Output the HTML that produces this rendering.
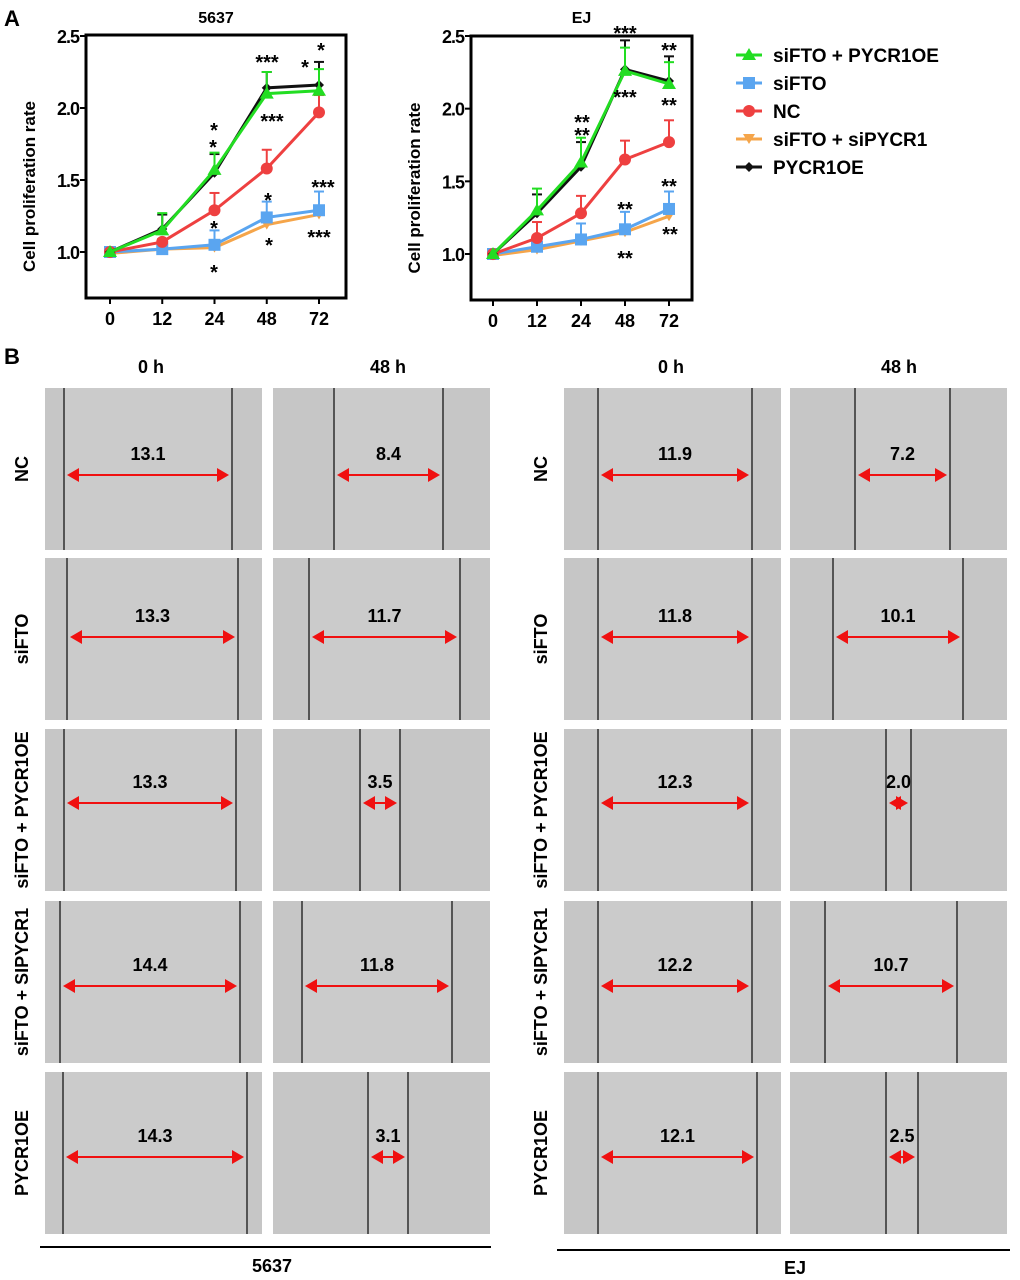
<!DOCTYPE html>
<html><head><meta charset="utf-8"><style>
html,body{margin:0;padding:0;background:#fff;}
svg{display:block;font-family:"Liberation Sans",Arial,sans-serif;}
</style></head><body>
<svg id="fig" width="1020" height="1280" viewBox="0 0 1020 1280" xmlns="http://www.w3.org/2000/svg">
<text x="4" y="26" font-size="22" font-weight="bold">A</text>
<text x="4" y="364" font-size="22" font-weight="bold">B</text>
<g id="charts"></g>
<g id="legend"></g>
<g id="scratch"></g>
</svg>
<script>
const NS='http://www.w3.org/2000/svg';
const categories=['0','12','24','48','72'];
const yTicks=[1.0,1.5,2.0,2.5];
const seriesNames=['siFTO + PYCR1OE','siFTO','NC','siFTO + siPYCR1','PYCR1OE'];
// 5637 values
const a_green=[1.0,1.15,1.57,2.10,2.12];
const a_greenErr=[0,0.12,0.12,0.15,0.15];
const a_black=[1.0,1.16,1.55,2.14,2.16];
const a_blackErr=[0,0.10,0.13,0.11,0.16];
const a_red=[1.0,1.07,1.29,1.58,1.97];
const a_redErr=[0,0.02,0.12,0.13,0.12];
const a_blue=[1.0,1.02,1.05,1.24,1.29];
const a_blueErr=[0,0.01,0.10,0.11,0.13];
const a_orange=[0.99,1.02,1.03,1.19,1.26];
// EJ values
const b_green=[1.0,1.30,1.63,2.26,2.17];
const b_greenErr=[0,0.15,0.17,0.16,0.15];
const b_black=[1.0,1.28,1.60,2.27,2.19];
const b_blackErr=[0,0.13,0.17,0.20,0.17];
const b_red=[1.0,1.11,1.28,1.65,1.77];
const b_redErr=[0,0.11,0.12,0.13,0.15];
const b_blue=[1.0,1.05,1.10,1.17,1.31];
const b_blueErr=[0,0.01,0.11,0.12,0.12];
const b_orange=[0.99,1.03,1.09,1.15,1.26];
const colors={green:'#22dd22',blue:'#5aa5f0',red:'#ee4040',orange:'#f5a54a',black:'#111'};

function mk(tag,attrs,parent,text){const e=document.createElementNS(NS,tag);for(const k in attrs)e.setAttribute(k,attrs[k]);if(text!==undefined)e.textContent=text;parent.appendChild(e);return e;}

function marker(kind,x,y,c,g){
  if(kind==='green')return mk('polygon',{points:`${x},${y-7} ${x-7},${y+5} ${x+7},${y+5}`,fill:c},g);
  if(kind==='blue')return mk('rect',{x:x-6,y:y-6,width:12,height:12,fill:c},g);
  if(kind==='red')return mk('circle',{cx:x,cy:y,r:6,fill:c},g);
  if(kind==='orange')return mk('polygon',{points:`${x-6},${y-5} ${x+6},${y-5} ${x},${y+5}`,fill:c},g);
  return mk('polygon',{points:`${x},${y-5} ${x+5},${y} ${x},${y+5} ${x-5},${y}`,fill:c},g);
}

function chart(cfg){
  const g=mk('g',{},document.getElementById('charts'));
  
  
  const yS=v=>cfg.y1+(v-1.0)*(cfg.y25-cfg.y1)/1.5;
  const xS=i=>cfg.x0+i*(cfg.x4-cfg.x0)/4;
  const box=mk('rect',{x:cfg.L,y:cfg.T,width:cfg.R-cfg.L,height:cfg.B-cfg.T,fill:'none',stroke:'#000','stroke-width':3},g);
  
  const title=mk('text',{x:(cfg.L+cfg.R)/2,y:23,'font-size':16,'font-weight':'bold','text-anchor':'middle'},g,cfg.title);
  
  yTicks.forEach(v=>{
    mk('line',{x1:cfg.L-6,x2:cfg.L,y1:yS(v),y2:yS(v),stroke:'#000','stroke-width':2},g);
    const t=mk('text',{x:cfg.L-7,y:yS(v)+7,'font-size':18,'font-weight':'bold','text-anchor':'end','letter-spacing':'-1'},g,v.toFixed(1));
    
  });
  categories.forEach((c,i)=>{
    mk('line',{x1:xS(i),x2:xS(i),y1:cfg.B,y2:cfg.B+6,stroke:'#000','stroke-width':2},g);
    const t=mk('text',{x:xS(i),y:cfg.B+27,'font-size':18,'font-weight':'bold','text-anchor':'middle'},g,c);
    
  });
  const yl=mk('text',{x:0,y:0,'font-size':17,'font-weight':'bold','text-anchor':'middle',transform:`translate(${cfg.L-51},${(cfg.T+cfg.B)/2+20}) rotate(-90)`},g,'Cell proliferation rate');
  
  cfg.order.forEach(([kind,vals,errs])=>{
    const c=colors[kind];
    const sg=mk('g',{},g);
    
    if(errs)vals.forEach((v,i)=>{if(errs[i]>0){const x=xS(i),y=yS(v),ye=yS(v+errs[i]);
      mk('line',{x1:x,x2:x,y1:y,y2:ye,stroke:c,'stroke-width':2},sg);
      mk('line',{x1:x-5,x2:x+5,y1:ye,y2:ye,stroke:c,'stroke-width':2},sg);}});
    mk('polyline',{points:vals.map((v,i)=>xS(i)+','+yS(v)).join(' '),fill:'none',stroke:c,'stroke-width':3},sg);
    vals.forEach((v,i)=>{const m=marker(kind,xS(i),yS(v),c,sg);});
  });
  cfg.stars.forEach(([txt,x,y])=>{const t=mk('text',{x,y:y+3,'font-size':20,'font-weight':'bold','text-anchor':'middle'},g,txt);
    });
}

chart({name:'chart-5637',title:'5637',L:86,R:346,T:35,B:298,x0:110,x4:319,y1:252,y25:36,
 order:[['orange',a_orange,null],['blue',a_blue,a_blueErr],['red',a_red,a_redErr],['black',a_black,a_blackErr],['green',a_green,a_greenErr]],
 stars:[['*',214,134],['*',213,151],['***',267,66],['***',272,125],['*',321,54],['*',305,71],['*',214,232],['*',214,276],['*',268,204],['*',269,249],['***',323,191],['***',319,241]]});
chart({name:'chart-ej',title:'EJ',L:471,R:692,T:36,B:300,x0:493,x4:669,y1:254,y25:36,
 order:[['orange',b_orange,null],['blue',b_blue,b_blueErr],['red',b_red,b_redErr],['black',b_black,b_blackErr],['green',b_green,b_greenErr]],
 stars:[['**',582,126],['**',582,139],['***',625,37],['***',625,101],['**',669,54],['**',669,109],['**',625,213],['**',625,262],['**',669,190],['**',670,238]]});

// legend
const lg=document.getElementById('legend');
const legKinds=['green','blue','red','orange','black'];
legKinds.forEach((k,i)=>{
  const y=55+i*28;
  const e=mk('g',{},lg);
  
  mk('line',{x1:736,x2:762,y1:y,y2:y,stroke:colors[k],'stroke-width':3},e);
  marker(k,749,y,colors[k],e);
  mk('text',{x:773,y:y+7,'font-size':19,'font-weight':'bold'},e,seriesNames[i]);
});

// scratch panels
const rowLabels=['NC','siFTO','siFTO + PYCR1OE','siFTO + SIPYCR1','PYCR1OE'];
const rowTops=[388,558,729,901,1072];
const colX=[[45,262],[273,490],[564,781],[790,1007]];
const gapValues=[['13.1','8.4','11.9','7.2'],['13.3','11.7','11.8','10.1'],['13.3','3.5','12.3','2.0'],['14.4','11.8','12.2','10.7'],['14.3','3.1','12.1','2.5']];
const woundEdges=[[[64,232],[334,443],[598,752],[855,950]],[[67,238],[309,460],[598,752],[833,963]],[[64,236],[360,400],[598,752],[886,911]],[[60,240],[302,452],[598,752],[825,957]],[[63,247],[368,408],[598,757],[886,918]]];
const arrowY=[475,637,803,986,1157];
const sc=document.getElementById('scratch');
const H=162;
function arrow(g,x1,x2,y){
  mk('line',{x1:x1+8,x2:x2-8,y1:y,y2:y,stroke:'#f01010','stroke-width':2},g);
  mk('polygon',{points:`${x1},${y} ${x1+12},${y-7} ${x1+12},${y+7}`,fill:'#f01010'},g);
  mk('polygon',{points:`${x2},${y} ${x2-12},${y-7} ${x2-12},${y+7}`,fill:'#f01010'},g);
}
[[151,'0 h'],[388,'48 h'],[671,'0 h'],[899,'48 h']].forEach(([x,t])=>{
  const e=mk('text',{x,y:373,'font-size':18,'font-weight':'bold','text-anchor':'middle'},sc,t);
  
});
rowTops.forEach((top,r)=>{
  [22,541].forEach(lx=>{
    const t=mk('text',{x:0,y:0,'font-size':18,'font-weight':'bold','text-anchor':'middle',transform:`translate(${lx+6},${top+H/2}) rotate(-90)`},sc,rowLabels[r]);
    
  });
  colX.forEach(([x1,x2],c)=>{
    const g=mk('g',{},sc);
    
    const [e1,e2]=woundEdges[r][c];
    mk('rect',{x:x1,y:top,width:x2-x1,height:H,fill:'#c6c6c6'},g);
    mk('rect',{x:e1,y:top,width:e2-e1,height:H,fill:'#cbcbcb'},g);
    mk('line',{x1:e1,x2:e1,y1:top,y2:top+H,stroke:'#555','stroke-width':2},g);
    mk('line',{x1:e2,x2:e2,y1:top,y2:top+H,stroke:'#555','stroke-width':2},g);
    const ay=arrowY[r];
    arrow(g,e1+3,e2-3,ay);
    const t=mk('text',{x:(e1+e2)/2,y:ay-15,'font-size':18,'font-weight':'bold','text-anchor':'middle'},g,gapValues[r][c]);
    
  });
});
mk('line',{x1:40,x2:491,y1:1247,y2:1247,stroke:'#000','stroke-width':2},sc);
mk('line',{x1:557,x2:1010,y1:1250,y2:1250,stroke:'#000','stroke-width':2},sc);
const c1=mk('text',{x:272,y:1272,'font-size':18,'font-weight':'bold','text-anchor':'middle'},sc,'5637');

const c2=mk('text',{x:795,y:1274,'font-size':18,'font-weight':'bold','text-anchor':'middle'},sc,'EJ');

</script>
</body></html>
